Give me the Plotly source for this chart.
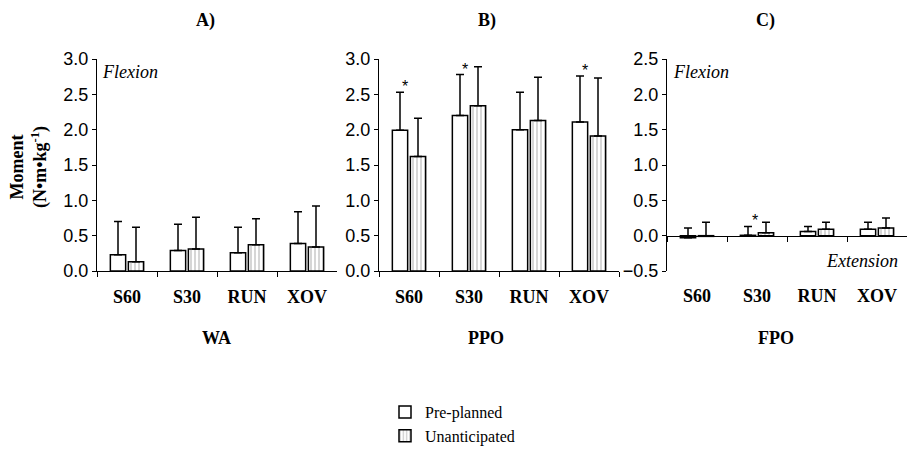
import plotly.graph_objects as go

categories = ["S60", "S30", "RUN", "XOV"]

# WA panel (A)
wa_pre = [0.23, 0.29, 0.26, 0.39]
wa_pre_top = [0.70, 0.66, 0.62, 0.84]
wa_un = [0.13, 0.31, 0.37, 0.34]
wa_un_top = [0.62, 0.76, 0.74, 0.92]

# PPO panel (B)
ppo_pre = [1.99, 2.20, 2.00, 2.11]
ppo_pre_top = [2.53, 2.78, 2.53, 2.76]
ppo_un = [1.62, 2.34, 2.13, 1.91]
ppo_un_top = [2.16, 2.89, 2.74, 2.73]
ppo_sig = ["*", "*", "", "*"]

# FPO panel (C)
fpo_pre = [-0.03, 0.005, 0.06, 0.09]
fpo_pre_top = [0.11, 0.13, 0.13, 0.19]
fpo_un = [-0.01, 0.04, 0.09, 0.11]
fpo_un_top = [0.19, 0.19, 0.19, 0.25]
fpo_sig = ["", "*", "", ""]

SERIF = "Liberation Serif"
SANS = "Liberation Sans"

# page body has an 8px margin; size the figure so it fits the 915x450 window
OFF = 8
W, H = 915 - OFF, 450 - OFF

def px_x(p):
    return (p - OFF) / W

def px_y(p):
    return 1 - (p - OFF) / H

ydom = [px_y(271), px_y(59)]
xdoms = [[px_x(97), px_x(337)], [px_x(379), px_x(619)], [px_x(667), px_x(907)]]

fig = go.Figure()

panels = [
    (wa_pre, wa_pre_top, wa_un, wa_un_top, "x", "y"),
    (ppo_pre, ppo_pre_top, ppo_un, ppo_un_top, "x2", "y2"),
    (fpo_pre, fpo_pre_top, fpo_un, fpo_un_top, "x3", "y3"),
]

for i, (pre, pre_top, un, un_top, xa, ya) in enumerate(panels):
    fig.add_trace(go.Bar(
        x=categories, y=pre, xaxis=xa, yaxis=ya, name="Pre-planned",
        showlegend=(i == 0), legendrank=1,
        marker=dict(color="white", line=dict(color="black", width=1.5)),
        error_y=dict(type="data", symmetric=False,
                     array=[t - v for t, v in zip(pre_top, pre)],
                     arrayminus=[0] * len(pre),
                     color="black", thickness=1.5, width=4),
    ))
    fig.add_trace(go.Bar(
        x=categories, y=un, xaxis=xa, yaxis=ya, name="Unanticipated",
        showlegend=(i == 0), legendrank=2,
        marker=dict(color="white", line=dict(color="black", width=1.5),
                    pattern=dict(shape="|", fgcolor="#8a8a8a", bgcolor="white",
                                 size=4, solidity=0.35)),
        error_y=dict(type="data", symmetric=False,
                     array=[t - v for t, v in zip(un_top, un)],
                     arrayminus=[0] * len(un),
                     color="black", thickness=1.5, width=4),
    ))

tickfont = dict(family=SANS, size=18, color="black")
catfont = dict(family=SERIF, size=18, color="black")

def yaxis(rng, dom_x_anchor, dtick=0.5):
    return dict(domain=ydom, range=rng, dtick=dtick, tickformat=".1f",
                showgrid=False, zeroline=False, showline=True, linecolor="black",
                linewidth=1, ticks="outside", ticklen=4, tickcolor="black",
                tickfont=tickfont, anchor=dom_x_anchor)

def xaxis(dom, anchor, **kw):
    d = dict(domain=dom, type="category", categoryorder="array",
             categoryarray=categories, range=[-0.5, 3.5],
             showgrid=False, zeroline=False, showline=True, linecolor="black",
             linewidth=1, ticks="outside", ticklen=5, tickcolor="black",
             tickson="boundaries", tickfont=catfont, ticklabelstandoff=9,
             tickprefix="<b>", ticksuffix="</b>",
             anchor=anchor)
    d.update(kw)
    return d

c_range = [-0.5, 2.5]
zero_pos = ydom[0] + (0 - c_range[0]) / (c_range[1] - c_range[0]) * (ydom[1] - ydom[0])
zero_px = (1 - zero_pos) * H
bottom_px = (1 - ydom[0]) * H

fig.update_layout(
    width=W, height=H,
    margin=dict(l=0, r=0, t=0, b=0, autoexpand=False),
    paper_bgcolor="white", plot_bgcolor="rgba(0,0,0,0)",
    barmode="group", bargap=0.4, bargroupgap=0.15,
    xaxis=xaxis(xdoms[0], "y"),
    xaxis2=xaxis(xdoms[1], "y2"),
    xaxis3=xaxis(xdoms[2], "free", position=zero_pos,
                 ticklabelstandoff=int(round(bottom_px - zero_px)) + 9),
    yaxis=yaxis([0, 3.0], "x"),
    yaxis2=yaxis([0, 3.0], "x2"),
    yaxis3=yaxis(c_range, "x3"),
    legend=dict(x=px_x(385), y=px_y(395), xanchor="left", yanchor="top",
                font=dict(family=SERIF, size=16, color="black"),
                bgcolor="rgba(0,0,0,0)", traceorder="normal"),
    font=dict(family=SERIF, color="black"),
)

def txt_font(size=18, fam=SERIF):
    return dict(family=fam, size=size, color="black")

ann = []
# panel titles
for txt, xp in [("<b>A)</b>", 205), ("<b>B)</b>", 487), ("<b>C)</b>", 765)]:
    ann.append(dict(text=txt, x=px_x(xp), y=px_y(20), xref="paper", yref="paper",
                    xanchor="center", yanchor="middle", showarrow=False, font=txt_font()))
# bottom group labels
for txt, xp in [("<b>WA</b>", 216), ("<b>PPO</b>", 486), ("<b>FPO</b>", 776)]:
    ann.append(dict(text=txt, x=px_x(xp), y=px_y(338), xref="paper", yref="paper",
                    xanchor="center", yanchor="middle", showarrow=False, font=txt_font()))
# y-axis title
ann.append(dict(text="<b>Moment<br>(N•m•kg<sup>-1</sup>)</b>", x=px_x(29), y=px_y(167),
                xref="paper", yref="paper", textangle=-90, xanchor="center",
                yanchor="middle", showarrow=False, font=txt_font()))
# Flexion / Extension
ann.append(dict(text="<i>Flexion</i>", x=px_x(100), y=px_y(72), xref="paper", yref="paper",
                xanchor="left", yanchor="middle", showarrow=False, font=txt_font()))
ann.append(dict(text="<i>Flexion</i>", x=px_x(671), y=px_y(72), xref="paper", yref="paper",
                xanchor="left", yanchor="middle", showarrow=False, font=txt_font()))
ann.append(dict(text="<i>Extension</i>", x=px_x(900), y=px_y(261), xref="paper", yref="paper",
                xanchor="right", yanchor="middle", showarrow=False, font=txt_font()))
# significance stars
for cat, s, top in zip(categories, ppo_sig, ppo_pre_top):
    if s:
        ann.append(dict(text=s, x=cat, y=top, xref="x2", yref="y2", xshift=-4, yshift=-5,
                        yanchor="bottom", showarrow=False, font=txt_font(16, SANS)))
for cat, s, top in zip(categories, fpo_sig, fpo_pre_top):
    if s:
        ann.append(dict(text=s, x=cat, y=top, xref="x3", yref="y3", xshift=-2, yshift=-5,
                        yanchor="bottom", showarrow=False, font=txt_font(16, SANS)))

fig.update_layout(annotations=ann)

fig.write_html("out.html")
